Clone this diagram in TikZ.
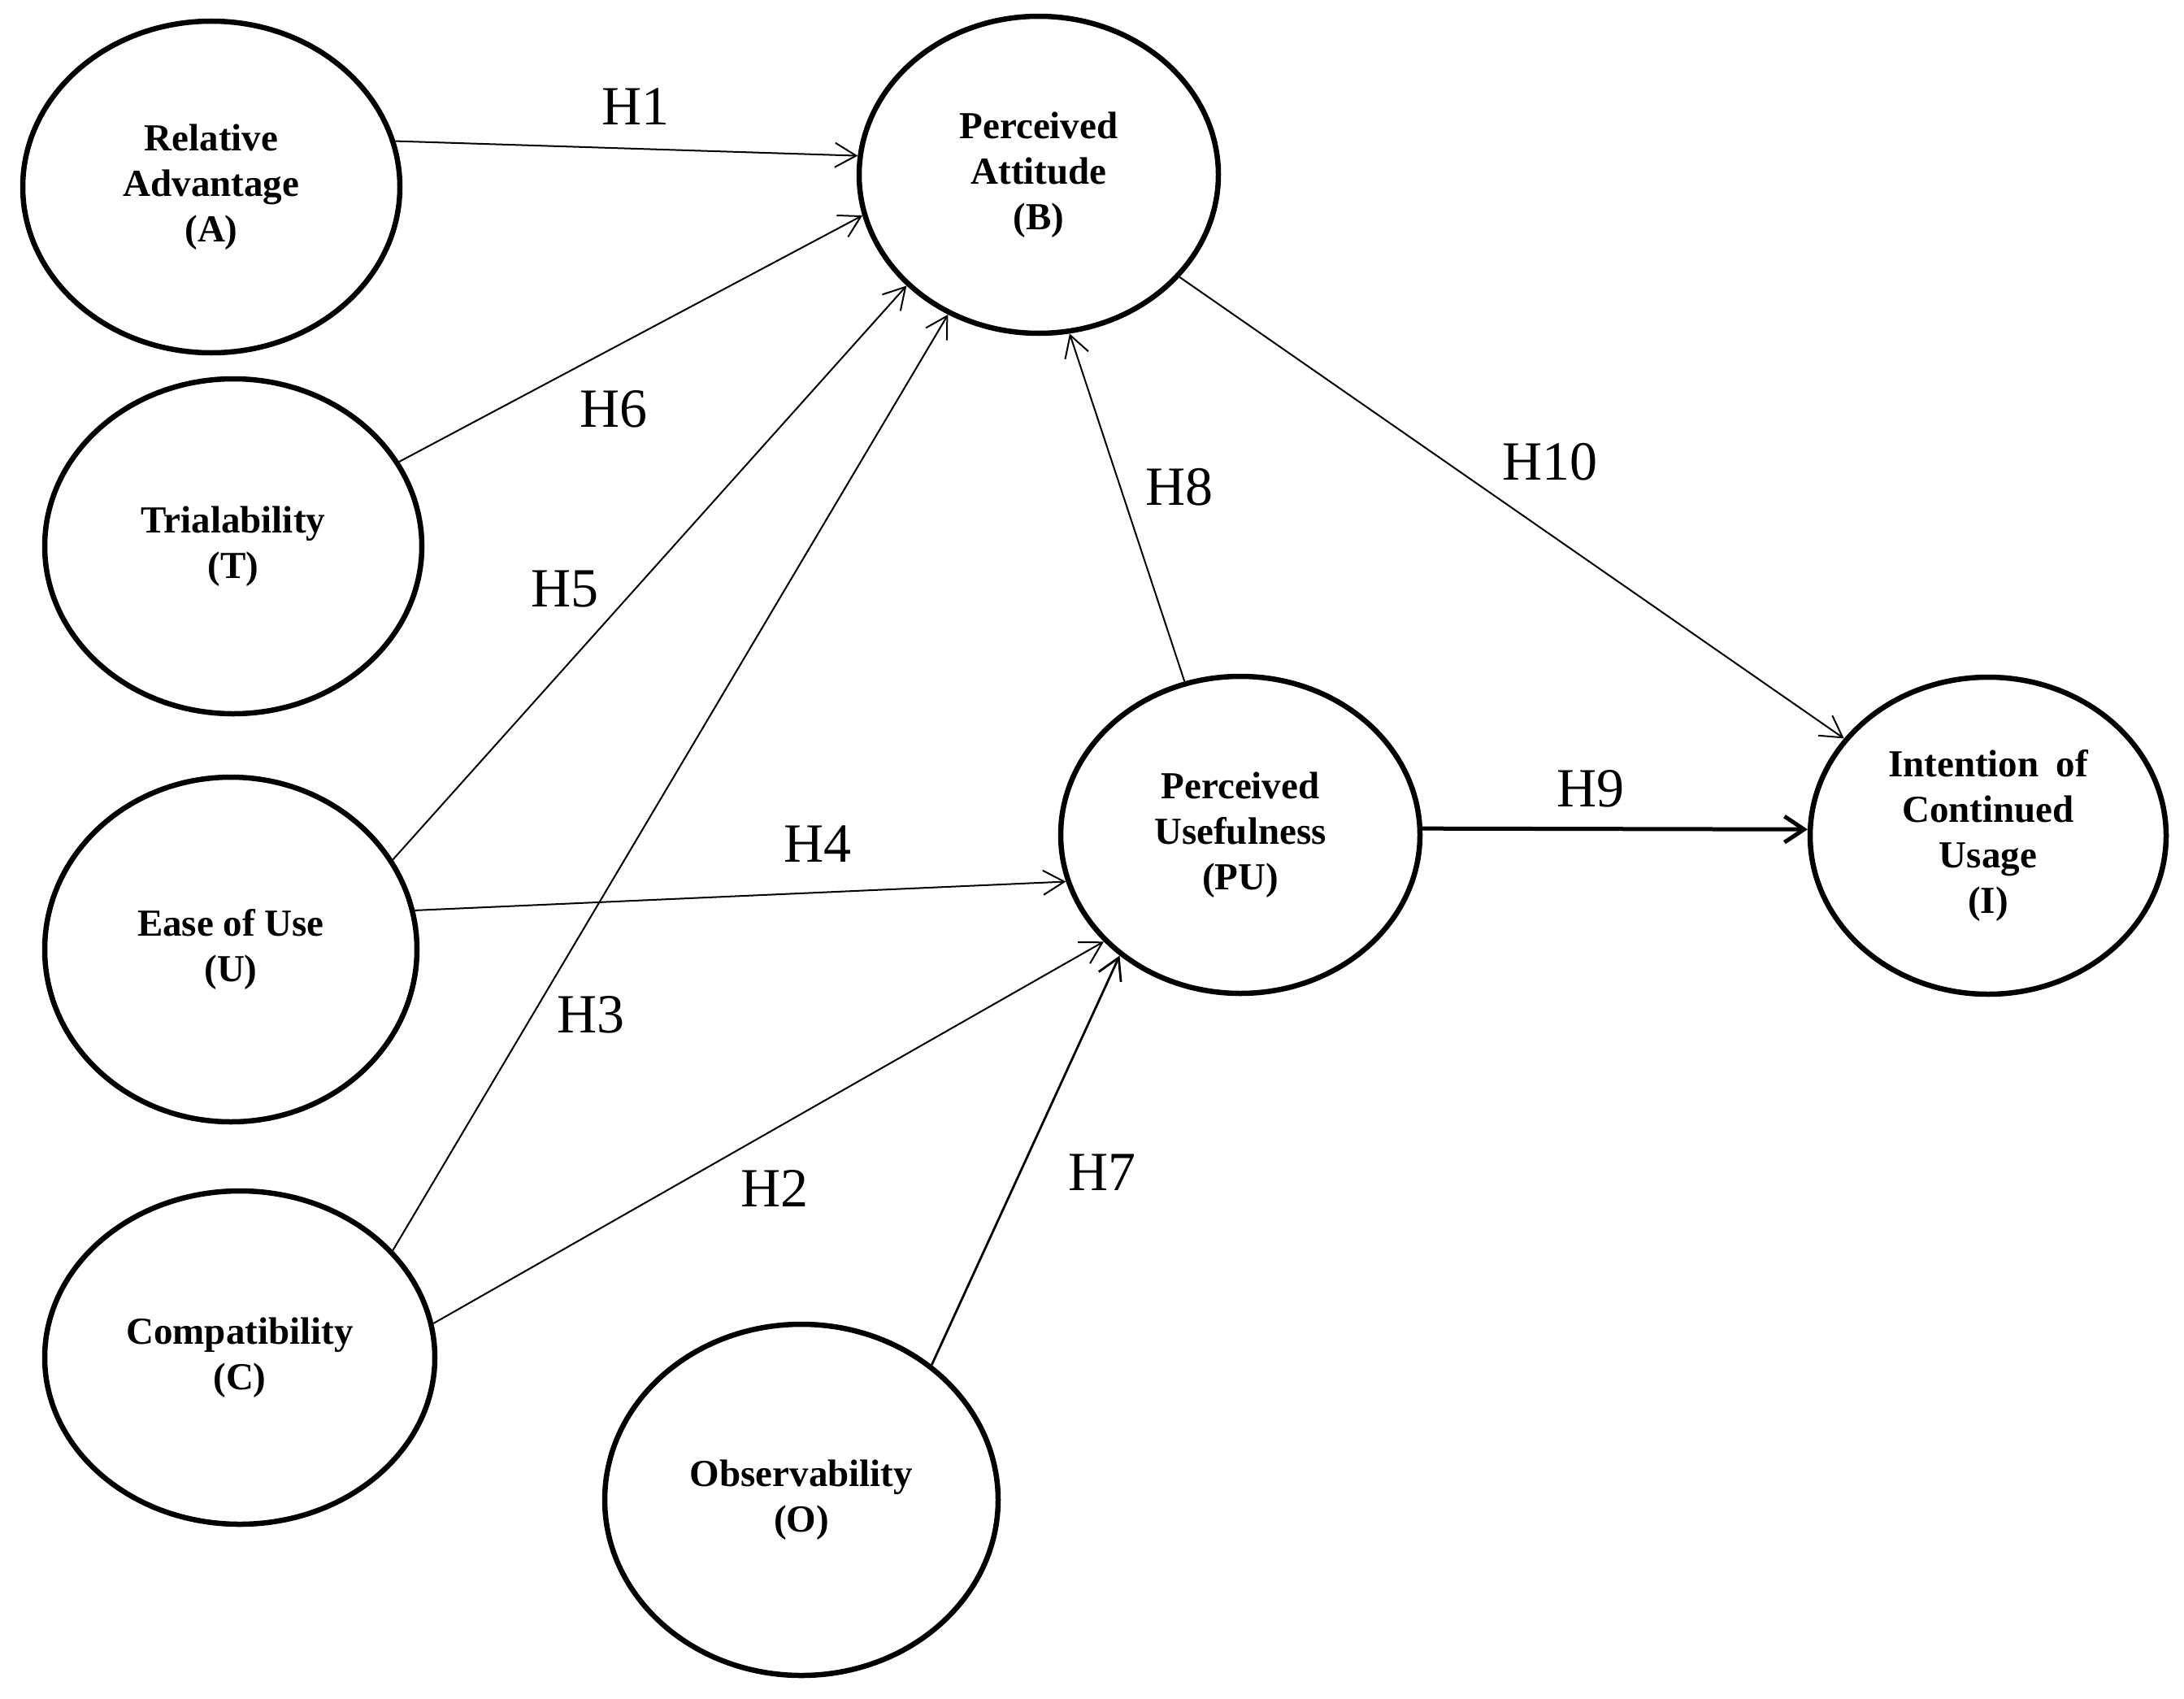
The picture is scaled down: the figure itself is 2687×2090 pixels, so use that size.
\documentclass[tikz,border=0pt]{standalone}
\usepackage{fontspec}
\setmainfont{Liberation Serif}
\usetikzlibrary{arrows.meta,shapes.geometric}
\begin{document}
\begin{tikzpicture}[x=1pt,y=-1pt,
  ell/.style={draw=black, line width=6.5pt, ellipse, inner sep=0pt, align=center,
    font=\fontsize{47}{56}\selectfont\bfseries},
  hyp/.style={font=\fontsize{68}{80}\selectfont, inner sep=0pt},
  arr/.style={draw=black, line width=2pt, -{Straight Barb[length=26pt,width=30pt]}},
  arrmid/.style={arr, line width=2.8pt},
  arrthick/.style={draw=black, line width=5pt, -{Straight Barb[length=24pt,width=32pt]}},
  ]
\useasboundingbox[fill=white] (0,0) rectangle (2687,2090);

\node[ell, minimum width=464pt, minimum height=408pt] (A) at (260,230) {Relative\\Advantage\\(A)};
\node[ell, minimum width=464pt, minimum height=412pt] (T) at (287,672) {Trialability\\(T)};
\node[ell, minimum width=458pt, minimum height=424pt] (U) at (284,1168) {Ease of Use\\(U)};
\node[ell, minimum width=480pt, minimum height=410pt] (C) at (295,1670) {Compatibility\\(C)};
\node[ell, minimum width=484pt, minimum height=432pt] (O) at (986,1845) {Observability\\(O)};
\node[ell, minimum width=442pt, minimum height=390pt] (B) at (1278,215) {Perceived\\Attitude\\(B)};
\node[ell, minimum width=442pt, minimum height=390pt] (PU) at (1526,1027) {Perceived\\Usefulness\\(PU)};
\node[ell, minimum width=438pt, minimum height=390pt] (I) at (2446,1028) {Intention\hspace{0.45em}of\\Continued\\Usage\\(I)};

\draw[arr] (A.14) -- (B.174);
\draw[arr] (T.27) -- (B.193);
\draw[arr] (U.29) -- (B.220);
\draw[arr] (C.35) -- (B.237);
\draw[arr] (U.12) -- (PU.195);
\draw[arr] (C.10) -- (PU.218);
\draw[arrmid] (O.46) -- (PU.225);
\draw[arr] (PU.110) -- (B.281);
\draw[arr] (B.324) -- (I.146);
\draw[arrthick] (PU.2) -- (I.178);

\node[hyp] (h1) at (782,131) {H1};
\node[hyp] (h6) at (755,503) {H6};
\node[hyp] (h5) at (695,725) {H5};
\node[hyp] (h3) at (727,1248) {H3};
\node[hyp] (h4) at (1006,1038) {H4};
\node[hyp] (h2) at (953,1462) {H2};
\node[hyp] (h7) at (1356,1442) {H7};
\node[hyp] (h8) at (1451,599) {H8};
\node[hyp] (h10) at (1907,568) {H10};
\node[hyp] (h9) at (1957,970) {H9};
\end{tikzpicture}
\end{document}
